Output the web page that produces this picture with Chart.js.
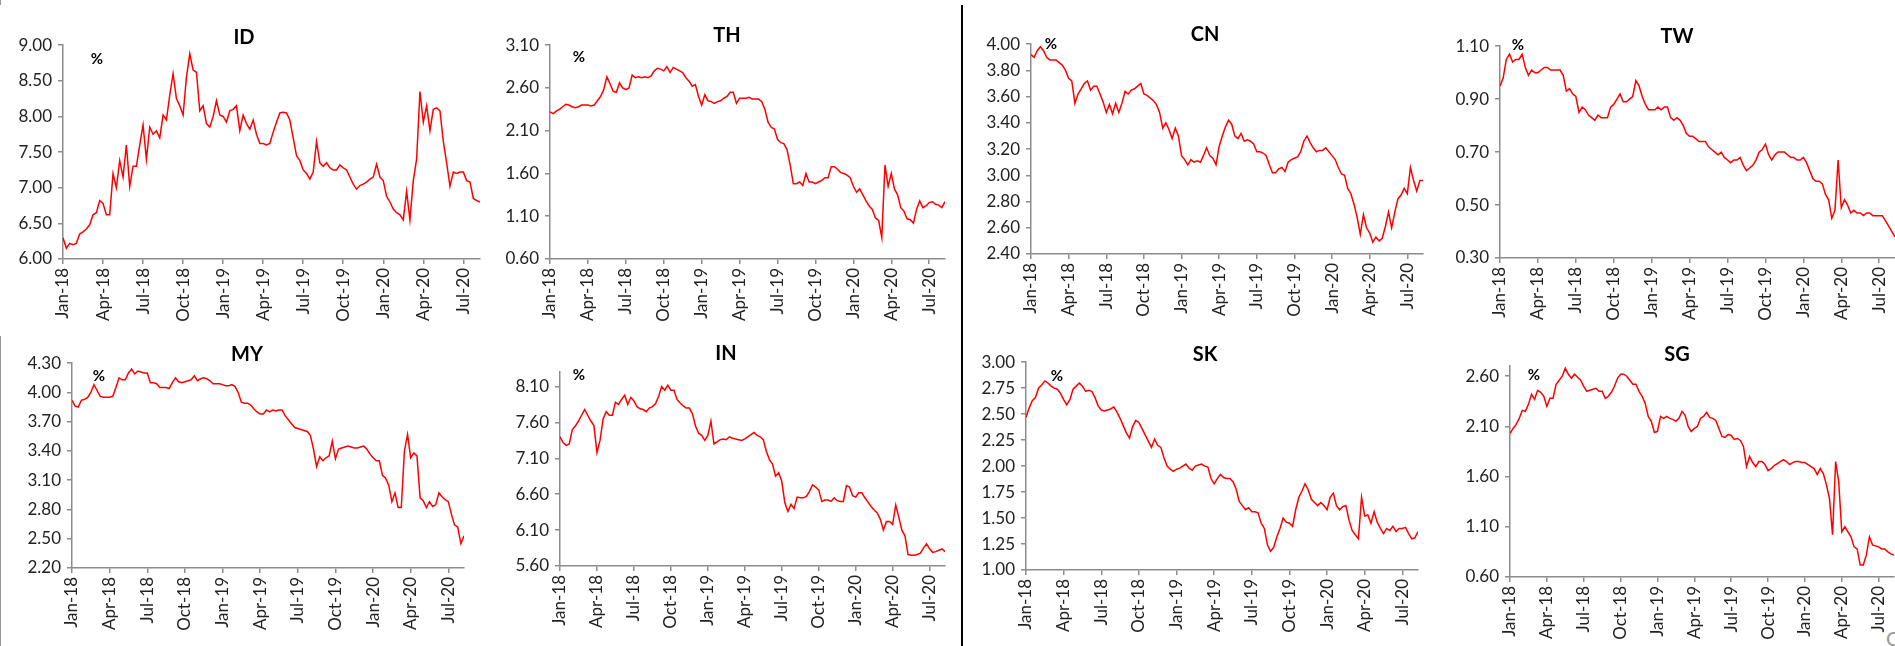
<!DOCTYPE html>
<html>
<head>
<meta charset="utf-8">
<script src="https://cdn.jsdelivr.net/npm/chart.js@4/dist/chart.umd.min.js"></script>
<style>
    html, body { margin: 0; padding: 0; background: #fff; }
    body { position: relative; width: 1895px; height: 646px; overflow: hidden; font-family: Lato, sans-serif; }
    canvas { position: absolute; }
    .title { position: absolute; font-weight: bold; font-size: 20px; color: #000; transform: translate(-50%, -50%); }
    .pct { position: absolute; font-weight: bold; font-size: 15px; color: #000; transform: translate(-50%, -50%); }
    .line { position: absolute; }
</style>
</head>
<body>
<div class="line" style="left:961px;top:5px;width:2px;height:641px;background:#000"></div>
<div class="line" style="left:0;top:336px;width:1px;height:310px;background:#999"></div>
<div class="line" style="left:0;top:0;width:1px;height:5px;background:#999"></div>
<div style="position:absolute;left:1886px;top:626px;font-size:20px;color:#999">C</div>

<script>
// 4 readings per month, Jan-18 .. mid Aug-20
const POINTS_PER_MONTH = 4;
const xTickLabels = ['Jan-18', 'Apr-18', 'Jul-18', 'Oct-18', 'Jan-19', 'Apr-19', 'Jul-19', 'Oct-19', 'Jan-20', 'Apr-20', 'Jul-20'];
const xTickValues = [0, 3, 6, 9, 12, 15, 18, 21, 24, 27, 30];

const idValues = [6.30, 6.15, 6.22, 6.20, 6.22, 6.35, 6.38, 6.42, 6.48, 6.62,
    6.65, 6.82, 6.78, 6.62, 6.62, 7.20, 7.00, 7.38, 7.15, 7.60,
    7.02, 7.30, 7.30, 7.60, 7.88, 7.40, 7.85, 7.75, 7.80, 7.70,
    8.02, 7.95, 8.30, 8.60, 8.25, 8.15, 8.02, 8.55, 8.88, 8.65,
    8.62, 8.08, 8.15, 7.90, 7.85, 8.00, 8.22, 8.02, 8.00, 7.92,
    8.08, 8.10, 8.15, 7.80, 8.02, 7.90, 7.82, 7.95, 7.75, 7.62,
    7.62, 7.60, 7.62, 7.78, 7.92, 8.05, 8.06, 8.05, 7.95, 7.70,
    7.45, 7.38, 7.25, 7.20, 7.12, 7.22, 7.65, 7.35, 7.30, 7.35,
    7.28, 7.25, 7.25, 7.32, 7.28, 7.25, 7.15, 7.05, 6.98, 7.03,
    7.05, 7.08, 7.12, 7.15, 7.33, 7.15, 7.10, 6.88, 6.80, 6.70,
    6.65, 6.62, 6.55, 6.95, 6.55, 7.10, 7.40, 8.35, 7.92, 8.15,
    7.80, 8.10, 8.12, 8.08, 7.65, 7.35, 7.02, 7.22, 7.20, 7.22,
    7.22, 7.10, 7.08, 6.85, 6.82, 6.80];

const thValues = [2.32, 2.30, 2.33, 2.35, 2.38, 2.41, 2.40, 2.38, 2.37, 2.38,
    2.40, 2.40, 2.40, 2.39, 2.40, 2.45, 2.50, 2.58, 2.73, 2.65,
    2.56, 2.55, 2.66, 2.60, 2.58, 2.60, 2.75, 2.72, 2.73, 2.72,
    2.73, 2.72, 2.74, 2.80, 2.83, 2.82, 2.80, 2.85, 2.78, 2.84,
    2.82, 2.80, 2.78, 2.72, 2.68, 2.62, 2.64, 2.50, 2.40, 2.52,
    2.45, 2.44, 2.42, 2.44, 2.45, 2.48, 2.50, 2.55, 2.55, 2.42,
    2.48, 2.48, 2.48, 2.49, 2.47, 2.47, 2.47, 2.44, 2.35, 2.20,
    2.14, 2.12, 2.00, 1.96, 1.95, 1.88, 1.70, 1.48, 1.48, 1.50,
    1.46, 1.60, 1.50, 1.50, 1.48, 1.50, 1.52, 1.55, 1.55, 1.68,
    1.68, 1.65, 1.61, 1.60, 1.58, 1.55, 1.45, 1.38, 1.42, 1.35,
    1.28, 1.22, 1.18, 1.08, 1.05, 0.85, 1.70, 1.45, 1.60, 1.42,
    1.35, 1.20, 1.16, 1.07, 1.06, 1.02, 1.18, 1.28, 1.20, 1.22,
    1.26, 1.27, 1.24, 1.23, 1.20, 1.27];

const cnValues = [3.92, 3.90, 3.95, 3.98, 3.95, 3.90, 3.88, 3.88, 3.88, 3.86,
    3.84, 3.80, 3.74, 3.72, 3.55, 3.62, 3.66, 3.70, 3.72, 3.65,
    3.68, 3.68, 3.62, 3.56, 3.48, 3.54, 3.47, 3.55, 3.48, 3.55,
    3.64, 3.62, 3.65, 3.66, 3.68, 3.70, 3.62, 3.61, 3.59, 3.57,
    3.54, 3.48, 3.36, 3.40, 3.35, 3.28, 3.36, 3.30, 3.15, 3.12,
    3.08, 3.12, 3.10, 3.11, 3.10, 3.15, 3.21, 3.15, 3.13, 3.08,
    3.22, 3.30, 3.37, 3.42, 3.39, 3.30, 3.28, 3.32, 3.26, 3.27,
    3.26, 3.24, 3.18, 3.18, 3.17, 3.15, 3.08, 3.02, 3.02, 3.05,
    3.06, 3.03, 3.10, 3.12, 3.13, 3.14, 3.18, 3.26, 3.30, 3.25,
    3.21, 3.18, 3.19, 3.19, 3.21, 3.18, 3.15, 3.12, 3.06, 3.01,
    3.00, 2.90, 2.86, 2.78, 2.68, 2.55, 2.70, 2.60, 2.56, 2.49,
    2.53, 2.50, 2.52, 2.61, 2.72, 2.60, 2.72, 2.82, 2.85, 2.90,
    2.86, 3.06, 2.96, 2.88, 2.96, 2.96];

const twValues = [0.95, 0.98, 1.05, 1.07, 1.04, 1.05, 1.05, 1.07, 1.02, 0.99,
    1.01, 1.00, 1.00, 1.01, 1.02, 1.02, 1.01, 1.01, 1.01, 1.01,
    0.99, 0.93, 0.94, 0.92, 0.91, 0.85, 0.87, 0.86, 0.84, 0.83,
    0.82, 0.84, 0.83, 0.83, 0.83, 0.87, 0.88, 0.90, 0.92, 0.89,
    0.89, 0.90, 0.91, 0.97, 0.95, 0.91, 0.88, 0.86, 0.86, 0.86,
    0.87, 0.86, 0.87, 0.87, 0.83, 0.82, 0.83, 0.82, 0.80, 0.77,
    0.76, 0.76, 0.75, 0.74, 0.74, 0.74, 0.72, 0.71, 0.70, 0.69,
    0.70, 0.68, 0.67, 0.66, 0.67, 0.67, 0.68, 0.65, 0.63, 0.64,
    0.65, 0.67, 0.70, 0.71, 0.73, 0.69, 0.67, 0.69, 0.70, 0.70,
    0.70, 0.69, 0.68, 0.68, 0.67, 0.67, 0.68, 0.66, 0.63, 0.60,
    0.59, 0.59, 0.58, 0.54, 0.52, 0.45, 0.48, 0.67, 0.49, 0.52,
    0.50, 0.47, 0.48, 0.47, 0.47, 0.46, 0.47, 0.47, 0.46, 0.46,
    0.46, 0.46, 0.44, 0.42, 0.40, 0.38];

const myValues = [3.92, 3.86, 3.85, 3.92, 3.93, 3.95, 4.00, 4.08, 4.02, 3.96,
    3.95, 3.95, 3.95, 3.96, 4.05, 4.15, 4.13, 4.13, 4.20, 4.24,
    4.19, 4.22, 4.21, 4.20, 4.20, 4.10, 4.10, 4.09, 4.05, 4.05,
    4.05, 4.04, 4.10, 4.15, 4.11, 4.10, 4.11, 4.12, 4.13, 4.17,
    4.12, 4.14, 4.15, 4.14, 4.12, 4.09, 4.09, 4.09, 4.08, 4.07,
    4.07, 4.08, 4.06, 4.00, 3.90, 3.89, 3.89, 3.87, 3.83, 3.80,
    3.78, 3.78, 3.82, 3.80, 3.82, 3.81, 3.82, 3.82, 3.76, 3.72,
    3.68, 3.64, 3.63, 3.62, 3.61, 3.60, 3.56, 3.42, 3.24, 3.34,
    3.30, 3.33, 3.35, 3.50, 3.32, 3.42, 3.43, 3.44, 3.45, 3.44,
    3.43, 3.43, 3.44, 3.45, 3.42, 3.37, 3.33, 3.30, 3.30, 3.15,
    3.12, 3.05, 2.88, 2.97, 2.82, 2.82, 3.40, 3.57, 3.33, 3.38,
    3.35, 2.92, 2.89, 2.82, 2.88, 2.83, 2.85, 2.97, 2.93, 2.90,
    2.88, 2.75, 2.64, 2.62, 2.45, 2.53];

const inValues = [7.40, 7.32, 7.28, 7.30, 7.50, 7.55, 7.62, 7.70, 7.78, 7.70,
    7.62, 7.56, 7.18, 7.35, 7.65, 7.75, 7.70, 7.70, 7.88, 7.85,
    7.92, 7.98, 7.85, 7.95, 7.90, 7.82, 7.79, 7.78, 7.75, 7.80,
    7.82, 7.86, 7.96, 8.10, 8.05, 8.12, 8.05, 8.05, 7.92, 7.87,
    7.83, 7.80, 7.80, 7.72, 7.55, 7.45, 7.42, 7.35, 7.42, 7.62,
    7.30, 7.33, 7.36, 7.37, 7.36, 7.40, 7.38, 7.37, 7.36, 7.35,
    7.37, 7.40, 7.43, 7.46, 7.42, 7.40, 7.36, 7.20, 7.08, 7.02,
    6.85, 6.90, 6.78, 6.48, 6.36, 6.46, 6.40, 6.56, 6.55, 6.55,
    6.57, 6.64, 6.73, 6.70, 6.66, 6.50, 6.52, 6.52, 6.50, 6.55,
    6.51, 6.50, 6.50, 6.72, 6.70, 6.58, 6.56, 6.62, 6.62, 6.55,
    6.49, 6.43, 6.38, 6.34, 6.25, 6.10, 6.22, 6.22, 6.18, 6.45,
    6.28, 6.10, 6.02, 5.76, 5.75, 5.75, 5.76, 5.78, 5.85, 5.91,
    5.84, 5.79, 5.80, 5.82, 5.84, 5.80];

const skValues = [2.47, 2.56, 2.63, 2.66, 2.75, 2.78, 2.82, 2.80, 2.77, 2.75,
    2.74, 2.70, 2.64, 2.59, 2.64, 2.74, 2.77, 2.80, 2.77, 2.72,
    2.73, 2.72, 2.66, 2.58, 2.54, 2.53, 2.54, 2.55, 2.57, 2.52,
    2.46, 2.39, 2.32, 2.27, 2.38, 2.44, 2.42, 2.36, 2.30, 2.24,
    2.18, 2.26, 2.20, 2.18, 2.08, 2.00, 1.97, 1.95, 1.97, 1.98,
    2.00, 2.02, 1.98, 1.96, 2.00, 2.01, 2.02, 2.00, 1.99, 1.88,
    1.83, 1.88, 1.92, 1.89, 1.88, 1.88, 1.85, 1.78, 1.66, 1.62,
    1.58, 1.60, 1.56, 1.56, 1.55, 1.45, 1.40, 1.24, 1.18, 1.22,
    1.32, 1.40, 1.50, 1.46, 1.45, 1.42, 1.58, 1.70, 1.76, 1.83,
    1.77, 1.68, 1.65, 1.62, 1.65, 1.62, 1.58, 1.70, 1.74, 1.62,
    1.58, 1.61, 1.62, 1.48, 1.38, 1.34, 1.30, 1.70, 1.52, 1.53,
    1.45, 1.56, 1.46, 1.40, 1.35, 1.40, 1.38, 1.42, 1.37, 1.40,
    1.40, 1.41, 1.35, 1.30, 1.31, 1.37];

const sgValues = [2.03, 2.08, 2.12, 2.18, 2.26, 2.25, 2.32, 2.42, 2.37, 2.46,
    2.44, 2.40, 2.30, 2.38, 2.38, 2.52, 2.56, 2.60, 2.68, 2.62,
    2.58, 2.62, 2.59, 2.56, 2.50, 2.45, 2.46, 2.47, 2.48, 2.45,
    2.45, 2.38, 2.40, 2.44, 2.50, 2.58, 2.62, 2.62, 2.60, 2.56,
    2.52, 2.52, 2.45, 2.40, 2.33, 2.20, 2.15, 2.04, 2.05, 2.20,
    2.18, 2.20, 2.18, 2.17, 2.15, 2.18, 2.25, 2.21, 2.10, 2.05,
    2.08, 2.10, 2.18, 2.20, 2.24, 2.19, 2.18, 2.16, 2.08, 2.00,
    1.99, 2.02, 2.01, 1.97, 1.98, 1.96, 1.90, 1.70, 1.80, 1.74,
    1.70, 1.75, 1.75, 1.72, 1.66, 1.68, 1.71, 1.73, 1.75, 1.77,
    1.75, 1.72, 1.74, 1.75, 1.75, 1.74, 1.74, 1.72, 1.70, 1.68,
    1.62, 1.68, 1.63, 1.52, 1.38, 1.02, 1.75, 1.55, 1.05, 1.10,
    1.05, 1.00, 0.90, 0.88, 0.72, 0.72, 0.82, 1.00, 0.92, 0.91,
    0.90, 0.88, 0.88, 0.85, 0.83, 0.82];

// y axis ticks per panel
const idTicks = [6.00, 6.50, 7.00, 7.50, 8.00, 8.50, 9.00];
const thTicks = [0.60, 1.10, 1.60, 2.10, 2.60, 3.10];
const cnTicks = [2.40, 2.60, 2.80, 3.00, 3.20, 3.40, 3.60, 3.80, 4.00];
const twTicks = [0.30, 0.50, 0.70, 0.90, 1.10];
const myTicks = [2.20, 2.50, 2.80, 3.10, 3.40, 3.70, 4.00, 4.30];
const inTicks = [5.60, 6.10, 6.60, 7.10, 7.60, 8.10];
const skTicks = [1.00, 1.25, 1.50, 1.75, 2.00, 2.25, 2.50, 2.75, 3.00];
const sgTicks = [0.60, 1.10, 1.60, 2.10, 2.60];

// layout of each panel: plot area edges in page pixels
const panels = [
    { name: 'ID', values: idValues, ticks: idTicks, min: 6.0, max: 9.0, axisX: 63, top: 45, bottom: 259, right: 480, titleX: 244, titleY: 36, pctX: 97, pctY: 58 },
    { name: 'TH', values: thValues, ticks: thTicks, min: 0.6, max: 3.1, axisX: 550, top: 45, bottom: 259, right: 945, titleX: 727, titleY: 34, pctX: 579, pctY: 56 },
    { name: 'CN', values: cnValues, ticks: cnTicks, min: 2.4, max: 4.0, axisX: 1031, top: 44, bottom: 254, right: 1423, titleX: 1205, titleY: 33, pctX: 1051, pctY: 43 },
    { name: 'TW', values: twValues, ticks: twTicks, min: 0.3, max: 1.1, axisX: 1500, top: 46, bottom: 258, right: 1895, titleX: 1677, titleY: 35, pctX: 1518, pctY: 44 },
    { name: 'MY', values: myValues, ticks: myTicks, min: 2.2, max: 4.3, axisX: 72, top: 363, bottom: 568, right: 464, titleX: 247, titleY: 353, pctX: 99, pctY: 375 },
    { name: 'IN', values: inValues, ticks: inTicks, min: 5.6, max: 8.3, axisX: 560, top: 372, bottom: 566, right: 945, titleX: 726, titleY: 352, pctX: 579, pctY: 374 },
    { name: 'SK', values: skValues, ticks: skTicks, min: 1.0, max: 3.0, axisX: 1026, top: 362, bottom: 570, right: 1418, titleX: 1205, titleY: 353, pctX: 1057, pctY: 375 },
    { name: 'SG', values: sgValues, ticks: sgTicks, min: 0.6, max: 2.7, axisX: 1510, top: 366, bottom: 577, right: 1894, titleX: 1677, titleY: 353, pctX: 1534, pctY: 374 }
];

const Y_AXIS_W = 70;
const X_AXIS_H = 72;
const PAD_TOP = 16;
const PAD_RIGHT = 14;
const AXIS_COLOR = '#8c8c8c';

Chart.defaults.font.family = 'Lato, sans-serif';
Chart.defaults.color = '#222';

panels.forEach(p => {
    const canvas = document.createElement('canvas');
    const left = p.axisX - Y_AXIS_W;
    const top = p.top - PAD_TOP;
    canvas.width = p.right - p.axisX + Y_AXIS_W + PAD_RIGHT;
    canvas.height = p.bottom - p.top + PAD_TOP + X_AXIS_H;
    canvas.style.left = left + 'px';
    canvas.style.top = top + 'px';
    document.body.appendChild(canvas);

    const title = document.createElement('div');
    title.className = 'title';
    title.textContent = p.name;
    title.style.left = p.titleX + 'px';
    title.style.top = p.titleY + 'px';
    document.body.appendChild(title);

    const pct = document.createElement('div');
    pct.className = 'pct';
    pct.textContent = '%';
    pct.style.left = p.pctX + 'px';
    pct.style.top = p.pctY + 'px';
    document.body.appendChild(pct);

    new Chart(canvas.getContext('2d'), {
        type: 'line',
        data: {
            datasets: [{
                data: p.values.map((v, i) => ({ x: i / POINTS_PER_MONTH, y: v })),
                borderColor: '#ff0000',
                borderWidth: 1.5,
                pointRadius: 0,
                tension: 0,
                fill: false
            }]
        },
        options: {
            responsive: false,
            animation: false,
            devicePixelRatio: 1,
            layout: { padding: { top: PAD_TOP, right: PAD_RIGHT, left: 0, bottom: 0 } },
            plugins: { legend: { display: false }, tooltip: { enabled: false } },
            scales: {
                x: {
                    type: 'linear',
                    min: 0,
                    max: (p.values.length - 1) / POINTS_PER_MONTH,
                    afterBuildTicks: scale => { scale.ticks = xTickValues.map(v => ({ value: v })); },
                    afterFit: scale => { scale.height = X_AXIS_H; },
                    grid: { display: true, drawOnChartArea: false, drawTicks: true, tickLength: 5, color: AXIS_COLOR, lineWidth: 1.5 },
                    border: { display: true, color: AXIS_COLOR, width: 1.5 },
                    ticks: {
                        autoSkip: false,
                        minRotation: 90,
                        maxRotation: 90,
                        padding: 4,
                        font: { size: 17 },
                        color: '#222',
                        callback: (value, index) => xTickLabels[index]
                    }
                },
                y: {
                    min: p.min,
                    max: p.max,
                    afterBuildTicks: scale => { scale.ticks = p.ticks.map(v => ({ value: v })); },
                    afterFit: scale => { scale.width = Y_AXIS_W; },
                    grid: { display: true, drawOnChartArea: false, drawTicks: true, tickLength: 5, color: AXIS_COLOR, lineWidth: 1.5 },
                    border: { display: true, color: AXIS_COLOR, width: 1.5 },
                    ticks: {
                        padding: 6,
                        font: { size: 17 },
                        color: '#222',
                        callback: value => value.toFixed(2)
                    }
                }
            }
        }
    });
});
</script>
</body>
</html>
